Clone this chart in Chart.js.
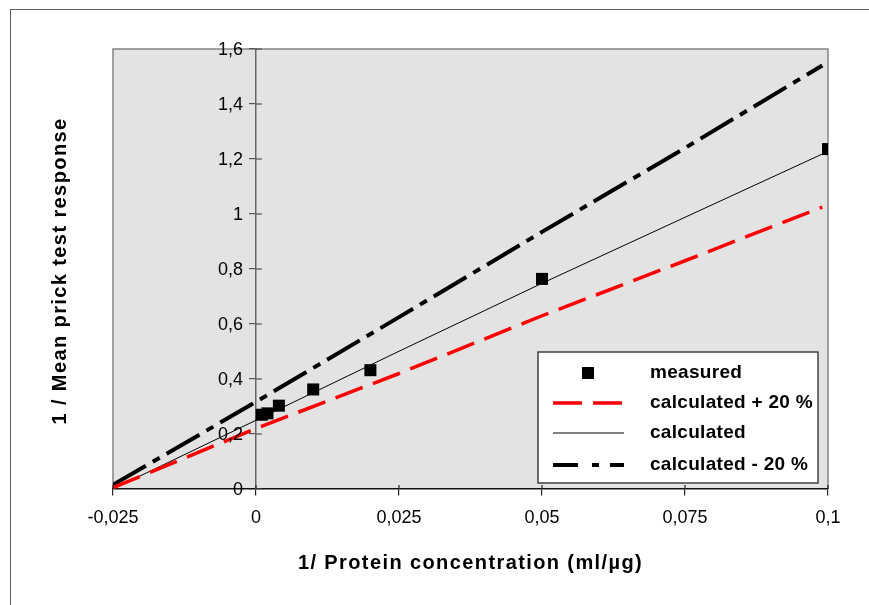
<!DOCTYPE html>
<html><head><meta charset="utf-8">
<script src="https://cdn.jsdelivr.net/npm/chart.js@4.4.1/dist/chart.umd.min.js"></script>
<style>
html,body{margin:0;padding:0;background:#fff;}
#wrap{position:relative;width:869px;height:605px;overflow:hidden;}
#frame{position:absolute;left:10px;top:9px;width:900px;height:700px;border-left:1.5px solid #606060;border-top:1.5px solid #606060;}
canvas{position:absolute;left:0;top:0;}
</style></head><body>
<div id="wrap"><div id="frame"></div><canvas id="c" width="869" height="605"></canvas></div>
<script>
const xTickValues = [-0.025, 0, 0.025, 0.05, 0.075, 0.1];
const xTickLabels = ['-0,025', '0', '0,025', '0,05', '0,075', '0,1'];
const yTickValues = [0, 0.2, 0.4, 0.6, 0.8, 1, 1.2, 1.4, 1.6];
const yTickLabels = ['0', '0,2', '0,4', '0,6', '0,8', '1', '1,2', '1,4', '1,6'];

const measuredX = [0.001, 0.002, 0.004, 0.01, 0.02, 0.05, 0.1];
const measuredY = [0.27, 0.275, 0.303, 0.362, 0.432, 0.764, 1.236];

const calcX = [-0.025, 0, 0.025, 0.05, 0.075, 0.099];
const calcY = [0, 0.25, 0.501, 0.748, 0.988, 1.218];
const plus20Y = [0.005, 0.22, 0.42, 0.63, 0.83, 1.025];
const minus20Y = [0.015, 0.317, 0.625, 0.935, 1.24, 1.54];

const seriesLabels = ['measured', 'calculated + 20 %', 'calculated', 'calculated - 20 %'];
const xTitle = '1/ Protein concentration (ml/µg)';
const yTitle = '1 / Mean prick test response';

const FONT = '"Liberation Sans", Arial, Helvetica, sans-serif';
const pts = (xs, ys) => xs.map((x, i) => ({x: x, y: ys[i]}));
const lbl = (vals, labels, v) => { const i = vals.findIndex(t => Math.abs(t - v) < 1e-9); return i < 0 ? '' : labels[i]; };

const decor = {
  id: 'decor',
  beforeDraw(chart) {
    const {ctx, chartArea: a} = chart;
    ctx.save();
    ctx.fillStyle = '#e3e3e3';
    ctx.fillRect(a.left, a.top, a.right - a.left, a.bottom - a.top);
    ctx.strokeStyle = '#858585';
    ctx.lineWidth = 1.5;
    ctx.beginPath();
    ctx.moveTo(a.left, a.bottom); ctx.lineTo(a.left, a.top);
    ctx.lineTo(a.right, a.top); ctx.lineTo(a.right, a.bottom);
    ctx.stroke();
    ctx.restore();
  },
  afterDraw(chart) {
    const {ctx, chartArea: a, scales} = chart;
    const x0 = scales.x.getPixelForValue(0);
    const y0 = scales.y.getPixelForValue(0);
    ctx.save();
    // inner halves of the crossing tick marks
    ctx.lineWidth = 1.2;
    ctx.strokeStyle = '#555';
    yTickValues.forEach(v => {
      const p = scales.y.getPixelForValue(v);
      ctx.beginPath(); ctx.moveTo(x0, p); ctx.lineTo(x0 + 6, p); ctx.stroke();
    });
    ctx.strokeStyle = '#222';
    xTickValues.forEach(v => {
      const p = scales.x.getPixelForValue(v);
      ctx.beginPath(); ctx.moveTo(p, y0); ctx.lineTo(p, y0 - 4); ctx.stroke();
    });

    // y tick labels, to the left of the axis at x = 0
    ctx.fillStyle = '#000';
    ctx.font = '18px ' + FONT;
    ctx.textAlign = 'right';
    ctx.textBaseline = 'middle';
    yTickValues.forEach((v, i) => {
      ctx.fillText(yTickLabels[i], x0 - 13, scales.y.getPixelForValue(v) + 1);
    });

    // axis titles
    ctx.font = 'bold 20px ' + FONT;
    ctx.letterSpacing = '1.4px';
    ctx.textAlign = 'center';
    ctx.fillText(xTitle, (a.left + a.right) / 2, a.bottom + 74);
    ctx.save();
    ctx.translate(60, (a.top + a.bottom) / 2 + 2);
    ctx.rotate(-Math.PI / 2);
    ctx.fillText(yTitle, 0, 0);
    ctx.restore();
    ctx.letterSpacing = '0px';

    // legend
    const L = {x: 538, y: 352, w: 280, h: 131};
    ctx.fillStyle = '#fff';
    ctx.fillRect(L.x, L.y, L.w, L.h);
    ctx.strokeStyle = '#404040';
    ctx.lineWidth = 1.5;
    ctx.strokeRect(L.x, L.y, L.w, L.h);
    const rows = [373, 403, 433, 465];
    const ds = chart.data.datasets;
    ds.forEach((d, i) => {
      const y = rows[i];
      if (d.showLine === false) {
        ctx.fillStyle = d.backgroundColor;
        ctx.fillRect(582, y - 6, 12, 12);
      } else {
        ctx.strokeStyle = d.borderColor;
        ctx.lineWidth = d.borderWidth;
        ctx.setLineDash(d.legendDash || d.borderDash || []);
        ctx.lineCap = 'butt';
        ctx.beginPath(); ctx.moveTo(553, y); ctx.lineTo(624, y); ctx.stroke();
        ctx.setLineDash([]);
      }
      ctx.fillStyle = '#000';
      ctx.font = 'bold 19px ' + FONT;
      ctx.textAlign = 'left';
      ctx.textBaseline = 'middle';
      ctx.letterSpacing = '0.3px';
      ctx.fillText(d.label, 650, y);
      ctx.letterSpacing = '0px';
    });
    ctx.restore();
  }
};

new Chart(document.getElementById('c'), {
  type: 'scatter',
  data: {
    datasets: [
      {label: seriesLabels[0], data: pts(measuredX, measuredY), showLine: false,
       pointStyle: 'rect', pointRadius: 8.5, pointHoverRadius: 8.5,
       backgroundColor: '#000', borderColor: '#000', borderWidth: 0},
      {label: seriesLabels[1], data: pts(calcX, plus20Y), showLine: true, pointRadius: 0,
       borderColor: '#ff0000', borderWidth: 3.5, borderDash: [29, 11]},
      {label: seriesLabels[2], data: pts(calcX, calcY), showLine: true, pointRadius: 0,
       borderColor: '#000', borderWidth: 1},
      {label: seriesLabels[3], data: pts(calcX, minus20Y), showLine: true, pointRadius: 0,
       borderColor: '#000', borderWidth: 4, borderDash: [38, 8, 8, 8], legendDash: [25, 14, 7, 11]}
    ]
  },
  options: {
    responsive: false,
    animation: false,
    devicePixelRatio: 1,
    events: [],
    layout: {padding: {left: 113, top: 49, right: 41, bottom: 116}},
    plugins: {legend: {display: false}, tooltip: {enabled: false}, title: {display: false}},
    scales: {
      x: {
        type: 'linear', position: {y: 0}, min: -0.025, max: 0.1,
        afterBuildTicks: s => { s.ticks = xTickValues.map(v => ({value: v})); },
        ticks: {callback: v => lbl(xTickValues, xTickLabels, v), font: {family: FONT, size: 18},
                color: '#000', padding: 12, maxRotation: 0, autoSkip: false},
        grid: {drawOnChartArea: false, drawTicks: true, tickLength: 6, color: '#222', lineWidth: 1.2},
        border: {display: true, color: '#111', width: 1.5}
      },
      y: {
        type: 'linear', position: {x: 0}, min: 0, max: 1.6,
        afterBuildTicks: s => { s.ticks = yTickValues.map(v => ({value: v})); },
        ticks: {display: false, callback: v => lbl(yTickValues, yTickLabels, v), font: {family: FONT, size: 18},
                autoSkip: false},
        grid: {drawOnChartArea: false, drawTicks: true, tickLength: 6, color: '#555', lineWidth: 1.2},
        border: {display: true, color: '#666', width: 1.5}
      }
    }
  },
  plugins: [decor]
});
</script>
</body></html>
